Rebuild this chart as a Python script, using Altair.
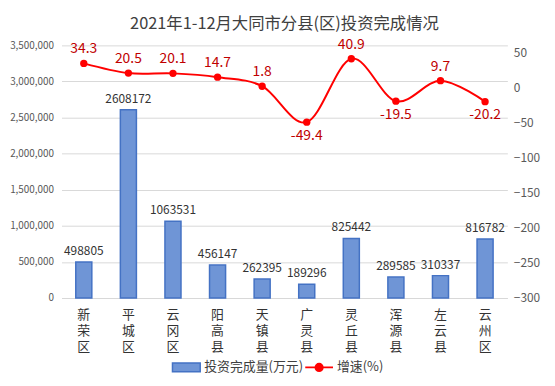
import altair as alt
import pandas as pd

categories = ["新荣区", "平城区", "云冈区", "阳高县", "天镇县", "广灵县", "灵丘县", "浑源县", "左云县", "云州区"]
investment = [498805, 2608172, 1063531, 456147, 262395, 189296, 825442, 289585, 310337, 816782]
growth = [34.3, 20.5, 20.1, 14.7, 1.8, -49.4, 40.9, -19.5, 9.7, -20.2]
left_ticks = [0, 500000, 1000000, 1500000, 2000000, 2500000, 3000000, 3500000]
right_ticks = [50, 0, -50, -100, -150, -200, -250, -300]

df = pd.DataFrame({"区县": categories, "投资": investment, "增速": growth})
df["增速标签"] = df["增速"].map(lambda v: f"{v:.1f}")
df["s1"] = "投资完成量(万元)"
df["s2"] = "增速(%)"

FONT = "Noto Sans CJK SC"
BLUE = "#4472C4"
RED = "#FF0000"

x = alt.X(
    "区县:N", sort=categories,
    scale=alt.Scale(paddingInner=0, paddingOuter=0),
    axis=alt.Axis(
        title=None, labelAngle=0, labelExpr="split(datum.label, '')",
        labelLineHeight=16, labelPadding=11, ticks=False,
        domainColor="#D9D9D9", labelFontSize=13, labelColor="#333333", labelFont=FONT,
    ),
)

y_left = alt.Y(
    "投资:Q", scale=alt.Scale(domain=[0, 3500000], nice=False),
    axis=alt.Axis(
        title=None, values=left_ticks, format=",.0f", grid=True, gridColor="#D9D9D9",
        domain=False, ticks=False, labelFontSize=10, labelColor="#595959",
        labelPadding=8, labelFont=FONT,
    ),
)

y_right = alt.Y(
    "增速:Q", scale=alt.Scale(domain=[-300, 60], nice=False),
    axis=alt.Axis(
        title=None, orient="right", values=right_ticks, format="d", grid=False, domain=False,
        ticks=False, labelFontSize=12, labelColor="#595959", labelPadding=6, labelFont=FONT,
    ),
)

bars = alt.Chart(df).mark_bar(
    width=alt.RelativeBandSize(0.36), stroke=BLUE, strokeWidth=1.5
).encode(
    x=x, y=y_left,
    fill=alt.Fill("s1:N", scale=alt.Scale(range=["#6F95D6"]), legend=alt.Legend(
        orient="none", legendX=111, legendY=310, title=None,
        symbolType="M-1,-0.32H1V0.32H-1Z", symbolSize=784,
        symbolStrokeColor=BLUE, symbolStrokeWidth=1.5,
        labelFont=FONT, labelFontSize=13, labelColor="#404040", labelOffset=3,
    )),
)

bar_text = alt.Chart(df).mark_text(
    baseline="bottom", dy=-4, fontSize=12, font=FONT, color="#333333"
).encode(x=x, y=y_left, text=alt.Text("投资:Q"))

left_layer = alt.layer(bars, bar_text)

line = alt.Chart(df).mark_line(interpolate="cardinal", strokeWidth=2).encode(
    x=x, y=y_right,
    stroke=alt.Stroke("s2:N", scale=alt.Scale(range=[RED]), legend=alt.Legend(
        orient="none", legendX=245, legendY=310, title=None,
        symbolType="M-1,0H1M-0.26,0A0.26,0.26,0,1,0,0.26,0A0.26,0.26,0,1,0,-0.26,0Z",
        symbolSize=784, symbolFillColor=RED, symbolStrokeWidth=2,
        labelFont=FONT, labelFontSize=13, labelColor="#404040", labelOffset=3,
    )),
)

points = alt.Chart(df).mark_circle(size=55, color=RED, opacity=1).encode(x=x, y=y_right)

text_pos = alt.Chart(df).transform_filter("datum['增速'] >= 0").mark_text(
    baseline="bottom", dy=-7, fontSize=14, font=FONT, color="#C00000"
).encode(x=x, y=y_right, text="增速标签:N")

text_neg = alt.Chart(df).transform_filter("datum['增速'] < 0").mark_text(
    baseline="top", dy=7, fontSize=14, font=FONT, color="#C00000"
).encode(x=x, y=y_right, text="增速标签:N")

right_layer = alt.layer(line, points, text_pos, text_neg)

chart = alt.layer(left_layer, right_layer).resolve_scale(
    y="independent", fill="independent", stroke="independent"
).properties(
    width=450, height=255, autosize="none",
    padding={"left": 54, "top": 36, "right": 40, "bottom": 78},
    title=alt.TitleParams(
        "2021年1-12月大同市分县(区)投资完成情况", fontSize=16.5, font=FONT,
        color="#404040", fontWeight="normal", anchor="middle", offset=6,
    ),
).configure_view(stroke=None)

chart.save("out.html", embed_options={"renderer": "svg", "actions": False})
